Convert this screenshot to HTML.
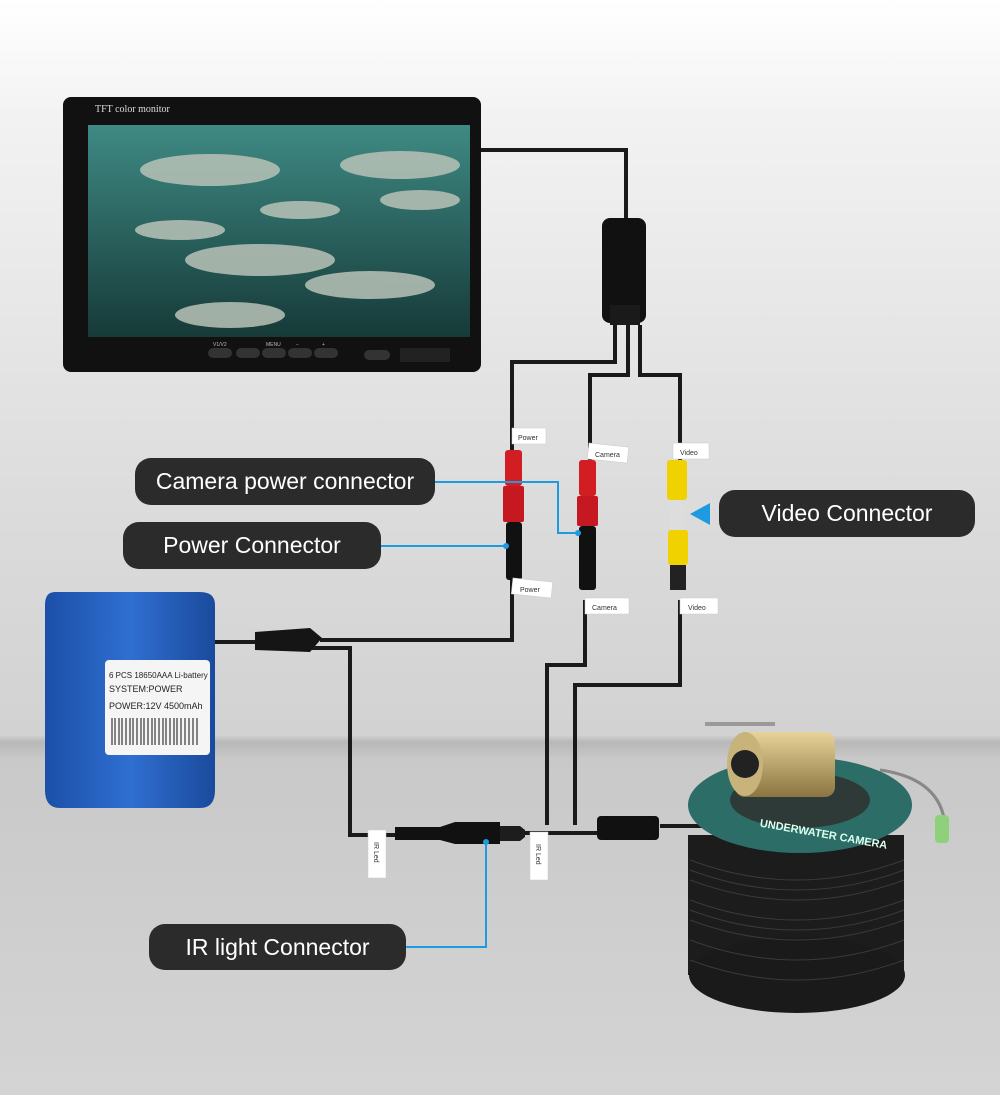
<!DOCTYPE html>
<html><head><meta charset="utf-8"><style>
html,body{margin:0;padding:0}
body{width:1000px;height:1095px;position:relative;overflow:hidden;font-family:"Liberation Sans",sans-serif;
background:linear-gradient(#ffffff 0px,#f2f2f2 120px,#dcdcdc 500px,#d2d2d2 735px,#b8b8b8 742px,#c9c9c9 760px,#d4d4d4 1095px)}
.pill{position:absolute;background:#2b2b2b;color:#fff;border-radius:16px;font-size:23px;display:flex;align-items:center;justify-content:center}
svg{position:absolute;left:0;top:0}
</style></head><body>
<svg width="1000" height="1095" viewBox="0 0 1000 1095">
<defs>
<linearGradient id="scr" x1="0" y1="0" x2="0" y2="1"><stop offset="0" stop-color="#3f8a84"/><stop offset="1" stop-color="#163a38"/></linearGradient>
<linearGradient id="bat" x1="0" y1="0" x2="1" y2="0"><stop offset="0" stop-color="#1b4fa8"/><stop offset="0.5" stop-color="#2f6fd0"/><stop offset="1" stop-color="#1a4a9c"/></linearGradient>
<linearGradient id="gold" x1="0" y1="0" x2="0" y2="1"><stop offset="0" stop-color="#e8d49a"/><stop offset="1" stop-color="#8a7440"/></linearGradient>
</defs>
<rect x="63" y="97" width="418" height="275" rx="8" fill="#111"/>
<rect x="88" y="125" width="382" height="212" fill="url(#scr)"/>
<g fill="#b9c3b8" opacity="0.85">
<ellipse cx="210" cy="170" rx="70" ry="16"/><ellipse cx="400" cy="165" rx="60" ry="14"/><ellipse cx="260" cy="260" rx="75" ry="16"/>
<ellipse cx="370" cy="285" rx="65" ry="14"/><ellipse cx="180" cy="230" rx="45" ry="10"/><ellipse cx="230" cy="315" rx="55" ry="13"/>
<ellipse cx="420" cy="200" rx="40" ry="10"/><ellipse cx="300" cy="210" rx="40" ry="9"/>
</g>
<text x="95" y="112" fill="#ddd" font-family="Liberation Serif,serif" font-size="10">TFT color monitor</text>
<g fill="#333"><rect x="208" y="348" width="24" height="10" rx="5"/><rect x="236" y="348" width="24" height="10" rx="5"/><rect x="262" y="348" width="24" height="10" rx="5"/><rect x="288" y="348" width="24" height="10" rx="5"/><rect x="314" y="348" width="24" height="10" rx="5"/><rect x="364" y="350" width="26" height="10" rx="5"/><rect x="400" y="348" width="50" height="14" fill="#222"/></g>
<g font-size="5" fill="#bbb"><text x="213" y="346">V1/V2</text><text x="266" y="346">MENU</text><text x="296" y="346">−</text><text x="322" y="346">+</text></g>
<g fill="none" stroke="#1a1a1a" stroke-width="4">
<path d="M481 150 H626 V220"/>
<path d="M615 325 V362 H512 V450"/>
<path d="M628 325 V375 H590 V460"/>
<path d="M640 325 V375 H680 V460"/>
<path d="M512 580 V640 H320"/>
<path d="M585 600 V665 H547 V825"/>
<path d="M680 600 V685 H575 V825"/>
<path d="M255 642 H215"/>
<path d="M255 648 H350 V835 H395"/>
<path d="M520 833 H600"/>
<path d="M660 826 H720"/>
</g>
<rect x="602" y="218" width="44" height="105" rx="8" fill="#111"/>
<rect x="610" y="305" width="30" height="20" fill="#1a1a1a"/>
<path d="M255 632 L310 628 L322 638 L310 652 L255 650 Z" fill="#151515"/>
<rect x="505" y="450" width="17" height="36" rx="3" fill="#d21d22"/>
<rect x="503" y="486" width="21" height="36" rx="2" fill="#c51820"/>
<rect x="506" y="522" width="16" height="58" rx="3" fill="#111"/>
<rect x="579" y="460" width="17" height="36" rx="3" fill="#d21d22"/>
<rect x="577" y="496" width="21" height="30" rx="2" fill="#c51820"/>
<rect x="579" y="526" width="17" height="64" rx="3" fill="#111"/>
<rect x="667" y="460" width="20" height="40" rx="3" fill="#f0d200"/>
<rect x="670" y="500" width="14" height="30" fill="#ddd"/>
<rect x="668" y="530" width="20" height="35" rx="3" fill="#f0d200"/>
<rect x="670" y="565" width="16" height="25" fill="#222"/>
<g fill="#fff" stroke="#ccc" stroke-width="0.5">
<rect x="512" y="428" width="34" height="16"/><rect x="588" y="445" width="40" height="16" transform="rotate(6 608 453)"/>
<rect x="673" y="443" width="36" height="16"/><rect x="512" y="580" width="40" height="16" transform="rotate(6 532 588)"/>
<rect x="585" y="598" width="44" height="16"/><rect x="680" y="598" width="38" height="16"/>
<rect x="368" y="830" width="18" height="48"/><rect x="530" y="832" width="18" height="48"/>
</g>
<g font-size="7" fill="#333"><text x="518" y="440">Power</text><text x="595" y="457">Camera</text><text x="680" y="455">Video</text><text x="520" y="592">Power</text><text x="592" y="610">Camera</text><text x="688" y="610">Video</text>
<text x="374" y="842" transform="rotate(90 374 842)">IR Led</text><text x="536" y="844" transform="rotate(90 536 844)">IR Led</text></g>
<path d="M395 827 H440 L455 822 H500 V844 H455 L440 840 H395 Z" fill="#111"/>
<path d="M500 826 H520 L525 830 V837 L520 841 H500 Z" fill="#1d1d1d"/>
<rect x="597" y="816" width="62" height="24" rx="4" fill="#111"/>
<path d="M55 592 Q45 592 45 605 V790 Q45 808 60 808 H200 Q215 808 215 790 V605 Q215 592 200 592 Z" fill="url(#bat)"/>
<rect x="105" y="660" width="105" height="95" rx="4" fill="#f5f5f5"/>
<text x="109" y="678" font-size="8" fill="#222">6 PCS 18650AAA Li-battery</text>
<text x="109" y="692" font-size="9" fill="#222">SYSTEM:POWER</text>
<text x="109" y="709" font-size="9" fill="#222">POWER:12V 4500mAh</text>
<g stroke="#111">
<path d="M112 718 V745 M115 718 V745 M119 718 V745 M122 718 V745 M126 718 V745 M130 718 V745 M133 718 V745 M137 718 V745 M141 718 V745 M144 718 V745 M148 718 V745 M152 718 V745 M155 718 V745 M159 718 V745 M163 718 V745 M166 718 V745 M170 718 V745 M174 718 V745 M177 718 V745 M181 718 V745 M185 718 V745 M189 718 V745 M193 718 V745 M197 718 V745"/>
</g>
<rect x="688" y="835" width="216" height="140" fill="#1c1c1c"/>
<ellipse cx="797" cy="975" rx="108" ry="38" fill="#1a1a1a"/>
<g stroke="#3a3a3a" stroke-width="1" fill="none">
<path d="M690 860 Q797 900 904 860"/><path d="M690 870 Q797 910 904 870"/><path d="M690 880 Q797 920 904 880"/><path d="M690 900 Q797 940 904 900"/><path d="M690 910 Q797 950 904 910"/><path d="M690 920 Q797 960 904 920"/><path d="M690 940 Q797 980 904 940"/><path d="M690 960 Q797 1000 904 960"/>
</g>
<ellipse cx="800" cy="805" rx="112" ry="48" fill="#2c6d68"/>
<ellipse cx="800" cy="800" rx="70" ry="28" fill="#2e3a38"/>
<text x="760" y="830" font-size="11" fill="#dfe" font-weight="bold" transform="rotate(10 780 825)">UNDERWATER CAMERA</text>
<path d="M880 770 Q950 780 945 840" stroke="#888" stroke-width="3" fill="none"/>
<rect x="935" y="815" width="14" height="28" rx="4" fill="#8fd07a"/>
<rect x="705" y="722" width="70" height="4" fill="#999"/>
<rect x="735" y="732" width="100" height="65" rx="10" fill="url(#gold)"/>
<ellipse cx="745" cy="764" rx="18" ry="32" fill="#c8b47a"/>
<circle cx="745" cy="764" r="14" fill="#222"/>
<g stroke="#1e9be0" stroke-width="2" fill="none">
<path d="M435 482 H558 V533 H578"/>
<path d="M381 546 H506"/>
<path d="M406 947 H486 V842"/>
</g>
<circle cx="578" cy="533" r="3" fill="#1e9be0"/><circle cx="506" cy="546" r="3" fill="#1e9be0"/><circle cx="486" cy="842" r="3" fill="#1e9be0"/>
<path d="M690 514 L710 503 V525 Z" fill="#1e9be0"/>
</svg>
<div class="pill" style="left:135px;top:458px;width:300px;height:47px">Camera power connector</div>
<div class="pill" style="left:123px;top:522px;width:258px;height:47px">Power Connector</div>
<div class="pill" style="left:719px;top:490px;width:256px;height:47px">Video Connector</div>
<div class="pill" style="left:149px;top:924px;width:257px;height:46px">IR light Connector</div>
</body></html>
